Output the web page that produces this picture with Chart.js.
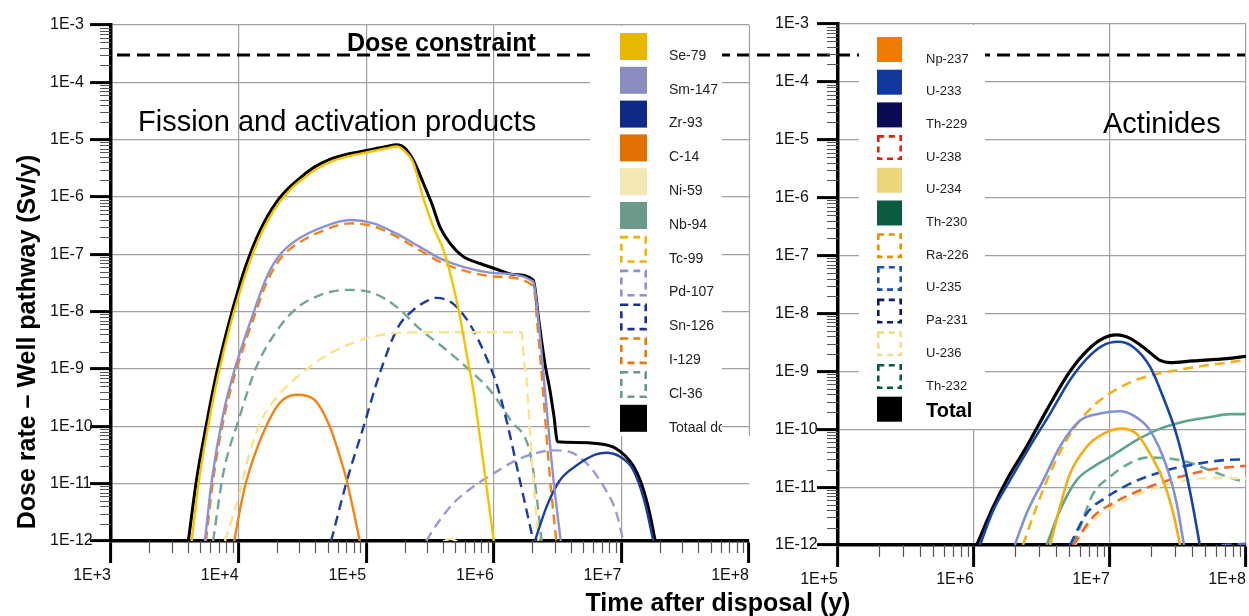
<!DOCTYPE html>
<html><head><meta charset="utf-8">
<script src="https://cdn.jsdelivr.net/npm/chart.js@4.4.1/dist/chart.umd.min.js"></script>
<style>
html,body{margin:0;padding:0;background:#fff;}
#wrap{position:relative;width:1249px;height:616px;overflow:hidden;background:#fff;}
#cA{position:absolute;left:0;top:0;}
#cB{position:absolute;left:760px;top:0;}
</style></head><body>
<div id="wrap"><canvas id="cA" width="1249" height="616"></canvas><canvas id="cB" width="489" height="616"></canvas></div>
<script>
// ---------- texts ----------
const yAxisTitle = 'Dose rate \u2013 Well pathway (Sv/y)';
const xAxisTitle = 'Time after disposal (y)';
const leftPanelTitle = 'Fission and activation products';
const rightPanelTitle = 'Actinides';
const doseConstraintLabel = 'Dose constraint';
const doseConstraint = 3e-4; // Sv/y

// ---------- ticks ----------
const yTicks = [1e-12,1e-11,1e-10,1e-9,1e-8,1e-7,1e-6,1e-5,1e-4,1e-3];
const yTickLabels = ['1E-12','1E-11','1E-10','1E-9','1E-8','1E-7','1E-6','1E-5','1E-4','1E-3'];
const leftXTicks = [1e3,1e4,1e5,1e6,1e7,1e8];
const leftXTickLabels = ['1E+3','1E+4','1E+5','1E+6','1E+7','1E+8'];
const rightXTicks = [1e5,1e6,1e7,1e8];
const rightXTickLabels = ['1E+5','1E+6','1E+7','1E+8'];

// ---------- series: [log10(time, y), log10(dose rate, Sv/y)] ----------
// Fission and activation products
const se79 = [[3.632,-12],[3.69,-10.94],[3.765,-9.95],[3.843,-9.08],[3.945,-8.15],[4.015,-7.62],[4.078,-7.19],[4.155,-6.75],[4.235,-6.39],[4.315,-6.11],[4.405,-5.87],[4.5,-5.69],[4.62,-5.50],[4.74,-5.37],[4.88,-5.28],[5.01,-5.22],[5.15,-5.155],[5.24,-5.12],[5.29,-5.18],[5.37,-5.41],[5.448,-6.03],[5.526,-6.52],[5.617,-7.0],[5.727,-8.0],[5.80,-8.9],[5.84,-9.37],[5.88,-10.0],[5.94,-11.0],[6.0,-12]];
const sm147 = [[3.736,-12],[3.79,-10.94],[3.88,-9.78],[3.97,-9.0],[4.05,-8.45],[4.12,-8.0],[4.19,-7.56],[4.26,-7.22],[4.33,-6.99],[4.455,-6.75],[4.664,-6.52],[4.873,-6.40],[5.056,-6.46],[5.238,-6.64],[5.42,-6.87],[5.578,-7.07],[5.761,-7.22],[6.022,-7.33],[6.31,-7.48],[6.344,-8.03],[6.406,-9.49],[6.468,-10.94],[6.525,-12]];
const zr93 = [[6.322,-12],[6.414,-11.4],[6.518,-10.94],[6.65,-10.68],[6.80,-10.49],[6.88,-10.46],[6.99,-10.53],[7.09,-10.75],[7.18,-11.3],[7.25,-12]];
const c14 = [[3.966,-12],[4.02,-11.35],[4.063,-10.94],[4.19,-10.13],[4.32,-9.6],[4.455,-9.45],[4.585,-9.52],[4.716,-10.01],[4.794,-10.53],[4.847,-10.94],[4.95,-12]];
const ni59 = [[5.60,-12.02],[5.66,-11.96],[5.72,-12.02]];
const nb94 = [];
const tc99 = [[3.893,-12],[3.95,-11.6],[4.01,-11.15],[4.063,-10.65],[4.167,-9.95],[4.324,-9.43],[4.507,-9.05],[4.716,-8.73],[4.95,-8.50],[5.16,-8.39],[5.37,-8.36],[6.218,-8.36],[6.235,-8.8],[6.257,-9.2],[6.29,-10.3],[6.32,-11.2],[6.35,-12]];
const pd107 = [[5.47,-12],[5.55,-11.72],[5.68,-11.35],[5.84,-11.05],[6.0,-10.82],[6.15,-10.62],[6.28,-10.5],[6.47,-10.42],[6.6,-10.45],[6.73,-10.65],[6.88,-11.12],[6.96,-11.5],[7.015,-12]];
const sn126 = [[4.725,-12],[4.85,-10.94],[4.98,-10.0],[5.11,-9.05],[5.25,-8.27],[5.37,-7.97],[5.47,-7.82],[5.55,-7.76],[5.68,-7.86],[5.81,-8.21],[5.94,-8.79],[6.02,-9.25],[6.1,-9.9],[6.2,-10.9],[6.31,-12]];
const i129 = [[3.744,-12],[3.80,-10.94],[3.89,-9.8],[3.98,-9.03],[4.06,-8.48],[4.13,-8.04],[4.20,-7.6],[4.27,-7.27],[4.34,-7.04],[4.465,-6.81],[4.67,-6.58],[4.873,-6.46],[5.056,-6.51],[5.238,-6.69],[5.42,-6.93],[5.578,-7.13],[5.761,-7.28],[6.022,-7.39],[6.31,-7.55],[6.34,-8.2],[6.39,-9.5],[6.44,-10.9],[6.49,-12]];
const cl36 = [[3.80,-12],[3.88,-10.82],[4.0,-9.89],[4.14,-8.96],[4.32,-8.27],[4.455,-7.94],[4.64,-7.71],[4.85,-7.62],[5.06,-7.68],[5.24,-7.92],[5.42,-8.3],[5.63,-8.67],[5.81,-9.02],[5.97,-9.37],[6.13,-9.89],[6.28,-10.42],[6.32,-10.94],[6.375,-12]];
const totalLeft = [[3.606,-12],[3.67,-10.94],[3.749,-9.95],[3.827,-9.08],[3.93,-8.15],[4.0,-7.6],[4.063,-7.16],[4.14,-6.72],[4.22,-6.36],[4.30,-6.08],[4.39,-5.85],[4.48,-5.67],[4.6,-5.47],[4.72,-5.34],[4.86,-5.25],[5.0,-5.19],[5.15,-5.125],[5.24,-5.09],[5.304,-5.15],[5.37,-5.36],[5.448,-5.76],[5.513,-6.11],[5.578,-6.52],[5.657,-6.81],[5.761,-7.04],[5.892,-7.16],[6.022,-7.26],[6.153,-7.35],[6.31,-7.45],[6.349,-8.09],[6.40,-8.90],[6.44,-9.37],[6.47,-9.80],[6.50,-10.27],[6.65,-10.28],[6.81,-10.30],[6.96,-10.39],[7.09,-10.68],[7.16,-11.02],[7.22,-11.5],[7.265,-12]];

// Actinides
const np237 = [[6.56,-12],[6.632,-11.34],[6.706,-10.77],[6.83,-10.30],[6.95,-10.08],[7.086,-9.99],[7.196,-10.08],[7.294,-10.42],[7.39,-10.88],[7.465,-11.45],[7.515,-12]];
const u233 = [[6.044,-12],[6.142,-11.40],[6.265,-10.88],[6.41,-10.30],[6.56,-9.73],[6.706,-9.15],[6.83,-8.78],[6.95,-8.55],[7.06,-8.49],[7.17,-8.58],[7.294,-8.92],[7.39,-9.44],[7.48,-10.02],[7.55,-10.65],[7.61,-11.34],[7.66,-12]];
const th229 = [[6.30,-12],[6.387,-11.45],[6.51,-10.88],[6.632,-10.30],[6.78,-9.85],[6.926,-9.73],[7.074,-9.69],[7.17,-9.76],[7.294,-10.02],[7.417,-10.65],[7.49,-11.28],[7.544,-12]];
const u238 = [[6.73,-12],[6.877,-11.51],[7.02,-11.28],[7.196,-11.08],[7.368,-10.93],[7.564,-10.79],[7.785,-10.68],[8.0,-10.63]];
const u234 = [];
const th230 = [[6.535,-12],[6.632,-11.40],[6.755,-10.88],[6.877,-10.65],[7.02,-10.45],[7.196,-10.19],[7.368,-9.99],[7.54,-9.87],[7.735,-9.79],[7.88,-9.74],[8.0,-9.74]];
const ra226 = [[6.36,-12],[6.46,-11.34],[6.58,-10.65],[6.73,-10.0],[6.877,-9.6],[7.02,-9.35],[7.17,-9.17],[7.30,-9.07],[7.49,-8.98],[7.7,-8.9],[7.86,-8.85],[8.0,-8.80]];
const u235 = [[6.706,-12],[6.83,-11.45],[6.976,-11.17],[7.123,-10.97],[7.27,-10.82],[7.465,-10.68],[7.66,-10.59],[7.857,-10.53],[8.0,-10.52]];
const pa231 = [[7.82,-12.0],[8.0,-11.98]];
const u236 = [[6.74,-12],[6.877,-11.57],[7.02,-11.34],[7.196,-11.14],[7.368,-10.99],[7.564,-10.88],[7.785,-10.84],[8.0,-10.85]];
const th232 = [[6.73,-12],[6.78,-11.69],[6.877,-11.11],[7.0,-10.82],[7.12,-10.62],[7.27,-10.49],[7.417,-10.50],[7.564,-10.56],[7.735,-10.71],[7.86,-10.82],[8.0,-10.92]];
const totalRight = [[6.02,-12],[6.142,-11.34],[6.24,-10.88],[6.387,-10.30],[6.535,-9.67],[6.68,-9.09],[6.80,-8.72],[6.926,-8.46],[7.05,-8.37],[7.147,-8.43],[7.27,-8.63],[7.368,-8.81],[7.44,-8.85],[7.61,-8.82],[7.86,-8.78],[8.0,-8.74]];

// ---------- styles ----------
const leftSeries = [
  {label:'Se-79', data:se79, line:'#f5c200', swatch:'#e8b800', dashed:false},
  {label:'Sm-147', data:sm147, line:'#8e92d0', swatch:'#8a8cc0', dashed:false},
  {label:'Zr-93', data:zr93, line:'#1d3c9c', swatch:'#0e2a86', dashed:false},
  {label:'C-14', data:c14, line:'#f08418', swatch:'#e07000', dashed:false},
  {label:'Ni-59', data:ni59, line:'#f6e7a8', swatch:'#f3e8b4', dashed:false},
  {label:'Nb-94', data:nb94, line:'#6b9c8a', swatch:'#6b9a88', dashed:false},
  {label:'Tc-99', data:tc99, line:'#fbe28c', swatch:'#f0b400', dashed:true},
  {label:'Pd-107', data:pd107, line:'#9a9ad8', swatch:'#9090cc', dashed:true},
  {label:'Sn-126', data:sn126, line:'#1d3c9c', swatch:'#1a3090', dashed:true},
  {label:'I-129', data:i129, line:'#f08418', swatch:'#e87800', dashed:true},
  {label:'Cl-36', data:cl36, line:'#74a592', swatch:'#6a9a88', dashed:true},
  {label:'Totaal dose', data:totalLeft, line:'#000000', swatch:'#000000', dashed:false, w:3}
];
const rightSeries = [
  {label:'Np-237', data:np237, line:'#f4ac14', swatch:'#ef7b00', dashed:false},
  {label:'U-233', data:u233, line:'#1745a6', swatch:'#1238a0', dashed:false},
  {label:'Th-229', data:th229, line:'#8192d4', swatch:'#0b0b55', dashed:false},
  {label:'U-238', data:u238, line:'#f06828', swatch:'#e01e10', dashed:true},
  {label:'U-234', data:u234, line:'#ecd57c', swatch:'#ecd57c', dashed:false},
  {label:'Th-230', data:th230, line:'#5ea38a', swatch:'#0a5c3e', dashed:false},
  {label:'Ra-226', data:ra226, line:'#f2b01e', swatch:'#ef8c00', dashed:true},
  {label:'U-235', data:u235, line:'#1a4ab0', swatch:'#1a4eb0', dashed:true},
  {label:'Pa-231', data:pa231, line:'#5566c0', swatch:'#0c1a6c', dashed:true},
  {label:'U-236', data:u236, line:'#f7e6a6', swatch:'#f2dc8c', dashed:true},
  {label:'Th-232', data:th232, line:'#6aaa92', swatch:'#0c5c3e', dashed:true},
  {label:'Total', data:totalRight, line:'#000000', swatch:'#000000', dashed:false, w:3.2, bold:true}
];

const FONT = "'Liberation Sans', Arial, Helvetica, sans-serif";
Chart.defaults.font.family = FONT;

const toPts = a => a.map(p => ({x: Math.pow(10, p[0]), y: Math.pow(10, p[1])}));
const makeDatasets = (list, w) => list.map(s => ({
  label: s.label, data: toPts(s.data), borderColor: s.line, backgroundColor: s.line,
  borderWidth: s.w || w, borderDash: s.dashed ? [10,6] : [], pointRadius: 0, fill: false,
  cubicInterpolationMode: 'monotone', swatch: s.swatch, dashedSwatch: s.dashed, bold: !!s.bold
}));

const minorTicks = {
  id: 'minorTicks',
  afterDraw(chart) {
    const ctx = chart.ctx, xs = chart.scales.x, ys = chart.scales.y;
    ctx.save();
    ctx.strokeStyle = '#555'; ctx.lineWidth = 1.2;
    ctx.beginPath();
    for (let d = Math.round(Math.log10(xs.min)); d < Math.round(Math.log10(xs.max)); d++) {
      for (let k = 2; k <= 9; k++) {
        const px = Math.round(xs.getPixelForValue(k * Math.pow(10, d))) + 0.5;
        ctx.moveTo(px, xs.top); ctx.lineTo(px, xs.top + 12);
      }
    }
    for (let d = Math.round(Math.log10(ys.min)); d < Math.round(Math.log10(ys.max)); d++) {
      for (let k = 2; k <= 9; k++) {
        const py = Math.round(ys.getPixelForValue(k * Math.pow(10, d))) + 0.5;
        ctx.moveTo(ys.right - 11, py); ctx.lineTo(ys.right, py);
      }
    }
    ctx.stroke();
    ctx.restore();
  }
};

function drawLegend(ctx, chart, cfg) {
  const ds = chart.data.datasets;
  ctx.save();
  ctx.fillStyle = '#fff';
  ctx.fillRect(cfg.box[0], cfg.box[1], cfg.box[2], cfg.box[3]);
  ctx.beginPath(); ctx.rect(cfg.box[0], cfg.box[1], cfg.box[2], cfg.box[3]); ctx.clip();
  ds.forEach((d, i) => {
    const top = cfg.y0 + i * cfg.step;
    if (d.dashedSwatch) {
      ctx.strokeStyle = d.swatch; ctx.lineWidth = 2.6; ctx.setLineDash(cfg.dash);
      ctx.strokeRect(cfg.sx + 1.3, top + 1.3, cfg.size - 2.6, cfg.size - 2.6);
      ctx.setLineDash([]);
    } else {
      ctx.fillStyle = d.swatch;
      ctx.fillRect(cfg.sx, top, cfg.size, cfg.size);
    }
    ctx.textAlign = 'left'; ctx.textBaseline = 'middle';
    if (d.bold) {
      ctx.font = 'bold 20px ' + FONT; ctx.fillStyle = '#000';
      ctx.fillText(d.label, cfg.lx, top + cfg.boldDy);
    } else {
      ctx.font = cfg.fontSize + 'px ' + FONT; ctx.fillStyle = '#222';
      ctx.fillText(d.label, cfg.lx, top + cfg.labelDy);
    }
  });
  ctx.restore();
}

const decorA = {
  id: 'decorA',
  afterDraw(chart) {
    const ctx = chart.ctx, ca = chart.chartArea, ys = chart.scales.y;
    ctx.save();
    const yd = ys.getPixelForValue(doseConstraint);
    ctx.strokeStyle = '#000'; ctx.lineWidth = 2.8; ctx.setLineDash([13,7]);
    ctx.beginPath(); ctx.moveTo(ca.left + 6, yd); ctx.lineTo(chart.width - 4, yd); ctx.stroke();
    ctx.setLineDash([]);
    drawLegend(ctx, chart, {box:[590, ca.top + 1, 132, 410], sx:620, y0:33, step:33.8, size:27, lx:669, fontSize:14, labelDy:23, boldDy:15, dash:[7,5]});
    ctx.strokeStyle = '#a0a0a0'; ctx.lineWidth = 1.2;
    ctx.beginPath(); ctx.moveTo(ca.right + 0.5, ca.top); ctx.lineTo(ca.right + 0.5, 436); ctx.stroke();
    ctx.fillStyle = '#000';
    ctx.textAlign = 'left'; ctx.textBaseline = 'alphabetic';
    ctx.font = 'bold 25px ' + FONT;
    ctx.fillText(doseConstraintLabel, 347, 51);
    ctx.font = '29px ' + FONT;
    ctx.fillText(leftPanelTitle, 138, 131);
    ctx.font = 'bold 25px ' + FONT;
    ctx.textAlign = 'center';
    ctx.fillText(xAxisTitle, 718, 611);
    ctx.save();
    ctx.translate(28, 342); ctx.rotate(-Math.PI / 2);
    ctx.textBaseline = 'middle';
    ctx.fillText(yAxisTitle, 0, 0);
    ctx.restore();
    ctx.restore();
  }
};

const decorB = {
  id: 'decorB',
  afterDraw(chart) {
    const ctx = chart.ctx, ca = chart.chartArea;
    ctx.save();
    drawLegend(ctx, chart, {box:[99, ca.top + 1, 126, 404], sx:117, y0:37, step:32.7, size:25, lx:166, fontSize:13, labelDy:22, boldDy:15, dash:[6,4.5]});
    ctx.fillStyle = '#000'; ctx.textAlign = 'left'; ctx.textBaseline = 'alphabetic';
    ctx.font = '29px ' + FONT;
    ctx.fillText(rightPanelTitle, 343, 133);
    ctx.restore();
  }
};

function makeOptions(xTicks, xLabels, xMin, yAxisWidth, xAxisHeight, padding, hideLastGrid) {
  return {
    responsive: false, animation: false, devicePixelRatio: 1,
    layout: { padding: padding },
    plugins: { legend: { display: false }, tooltip: { enabled: false } },
    scales: {
      x: {
        type: 'logarithmic', position: 'bottom', min: xMin, max: 1e8,
        afterBuildTicks: s => { s.ticks = xTicks.map(v => ({ value: v })); },
        afterFit: s => { s.height = xAxisHeight; s.paddingLeft = 0; s.paddingRight = 0; },
        ticks: { autoSkip: false, maxRotation: 0, minRotation: 0, align: 'end', padding: 3,
                 color: '#111', font: { size: 16 }, callback: (v, i) => xLabels[i] },
        grid: { color: c => (hideLastGrid && c.tick && c.tick.value === 1e8) ? 'rgba(0,0,0,0)' : '#a0a0a0',
                lineWidth: 1.2, tickColor: '#000', tickLength: 22, tickWidth: 3 },
        border: { color: '#000', width: 3.5 }
      },
      y: {
        type: 'logarithmic', position: 'left', min: 1e-12, max: 1e-3,
        afterBuildTicks: s => { s.ticks = yTicks.map(v => ({ value: v })); },
        afterFit: s => { s.width = yAxisWidth; },
        ticks: { autoSkip: false, padding: 6, crossAlign: 'far', color: '#111', font: { size: 16 }, callback: (v, i) => yTickLabels[i] },
        grid: { color: '#a0a0a0', lineWidth: 1.2, tickColor: '#000', tickLength: 21, tickWidth: 3 },
        border: { color: '#000', width: 3.5 }
      }
    }
  };
}

new Chart(document.getElementById('cA'), {
  type: 'line',
  data: { datasets: makeDatasets(leftSeries, 2.4) },
  options: makeOptions(leftXTicks, leftXTickLabels, 1e3, 61, 75, { top: 25, right: 500, left: 50, bottom: 0 }, true),
  plugins: [minorTicks, decorA]
});

new Chart(document.getElementById('cB'), {
  type: 'line',
  data: { datasets: makeDatasets(rightSeries, 2.6) },
  options: makeOptions(rightXTicks, rightXTickLabels, 1e5, 63, 71, { top: 24, right: 3, left: 15, bottom: 0 }, false),
  plugins: [minorTicks, decorB]
});
</script></body></html>
